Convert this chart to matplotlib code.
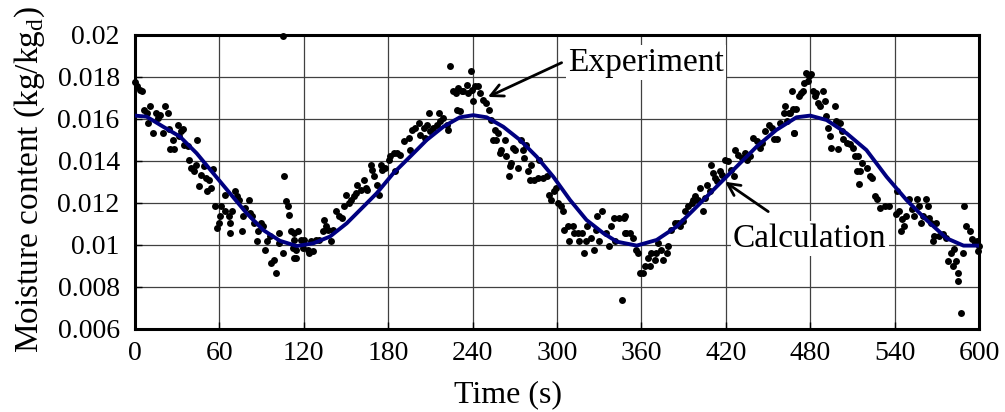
import matplotlib
matplotlib.use("Agg")
import matplotlib.pyplot as plt

plt.rcParams['font.family'] = ['Liberation Serif', 'DejaVu Serif']
plt.rcParams['mathtext.fontset'] = 'custom'
plt.rcParams['mathtext.rm'] = 'Liberation Serif'

# calculation curve
calc_t = [0, 8.3, 20.1, 32, 43.8, 55.7, 67.5, 79.4, 91.2, 103, 115, 126.8, 138.6,
          150.5, 162.3, 171.8, 183.6, 195.5, 207.4, 219.2, 231, 240.5, 250,
          261.8, 273.7, 285.6, 297.4, 309.3, 321, 333, 342.5, 356.7, 370.9,
          385, 399.3, 413.5, 427.7, 441.9, 456, 470.3, 480, 491.7, 505.9, 520,
          534.3, 548.5, 562.7, 577, 589, 600]
calc_v = [0.01616, 0.01611, 0.01563, 0.01516, 0.01437, 0.01341, 0.01246, 0.01151,
          0.01071, 0.01020, 0.00995, 0.01008, 0.01040, 0.01103, 0.01182, 0.01246,
          0.01341, 0.01420, 0.01500, 0.01563, 0.01608, 0.01618, 0.01608, 0.01563,
          0.01500, 0.01420, 0.01325, 0.01214, 0.01119, 0.01056, 0.01016, 0.00997,
          0.01024, 0.01087, 0.01182, 0.01278, 0.01373, 0.01468, 0.01548, 0.01608,
          0.01616, 0.01595, 0.01532, 0.01452, 0.01325, 0.01214, 0.01119, 0.01032,
          0.00997, 0.00997]

# experiment points
exp_t = [0, 1.6, 3.5, 4.9, 6.3, 8.2, 11, 9.3, 12.8, 14.7, 16.3, 17.5, 19.8, 21.7,
         23.3, 24.5, 26.9, 25, 27.5, 30.4, 32.7, 33.9, 31.5, 35, 37.4, 44.4, 38.5,
         39.7, 43.2, 42, 45.5, 46.7, 49, 50.2, 52.5, 51.4, 53.7, 55.3, 56.7, 58.4,
         59.5, 61.4, 60.7, 64.2, 63.7, 66.5, 67.7, 67.7, 68.9, 71.2, 72.4, 73.6,
         76.4, 77, 78.2, 81, 81.7, 82.9, 84.8, 86.4, 87.6, 89.9, 91.1, 92.2, 94.1,
         95.7, 96.9, 98.8, 100.4, 102.1, 102.7, 105.1, 105.8, 107.4, 108.6, 109.7,
         110.9, 112.1, 112.8, 113.2, 105.4,
         113.4, 114.6, 114.6, 115.8, 118.1, 119.3, 120.5, 122.8, 124, 126.4, 125.2,
         128.7, 131.1, 133.4, 134.6, 135.8, 136.9, 139.3, 140.5, 142.8, 145.2,
         147.5, 148.7, 149.9, 152.2, 153.4, 155.8, 156.9, 158.1, 160.5, 162.8, 164,
         165.2, 167.5, 168.7, 169.9, 172.2, 173.4, 174.6, 175.8, 178.1, 180.5,
         181.6, 184, 186.4, 185.2, 188.7, 191.1, 194.6, 195.8, 197, 199.3, 201.7,
         202.8, 205.2, 206.4, 207.5, 208.7, 209.9, 212.2, 214.6, 216.2, 216.9,
         219.3, 221.6, 222.8, 224, 225.9, 228.2, 229.2, 229.9, 232.2,
         231, 233.4, 235.8, 236.9, 238.6, 239.3, 240.5, 241.6, 244, 245.2, 247.5,
         249.4, 251.8, 253.4, 255.8, 254.6, 256.9, 258.1, 259.3, 260.5, 262.8, 264,
         266.4, 265.9, 267.5, 268.7, 269.9, 272.2, 274.6, 275.8, 276.9, 278.1,
         279.3, 280.5, 281.6, 284, 286.4, 287.5, 289.9, 292.7, 294.6, 295.8, 297.6,
         299.3, 300.5, 302.8, 304.5, 305.2, 307.5, 308.7, 311.1, 312.2, 314.6,
         315.8, 318.1, 319.3, 320.5, 321.6, 324, 326.4, 327.5, 328.7, 329.9, 332.2,
         334.6, 336.9, 338.1, 340.5, 341.6, 344, 346.4, 347.5, 348.7,
         348.1, 349.3, 351.7, 354, 356.4, 357.6, 358.8, 361.2, 362.4, 364.8, 365.9,
         367.1, 369.5, 370.7, 371.9, 374.3, 375.5, 377.9, 379, 381.4, 383.8, 386.2,
         387.4, 389.8, 390.9, 393.3, 395.7, 396.9, 398.1, 400.5, 401.7, 404, 405.2,
         406.4, 408.8, 409.5, 411.2, 412.4, 413.6, 415.9, 417.1, 419.5, 421.9,
         423.8, 425.5, 426.6, 429, 431.4, 433.8, 435, 437.3, 439.7, 442.1, 444.5,
         445.7, 448.1, 450.4, 452.8, 454, 456.4, 458.8, 461.2, 462.3, 463.5, 465.9,
         467.1, 468.3,
         465.1, 467.5, 468.7, 469.9, 472.3, 473.5, 475.2, 475.9, 477.1, 478.3,
         479.5, 480.7, 481.9, 483.1, 484.3, 485.5, 487.2, 489.1, 490.3, 491.5,
         492.7, 493.9, 495.1, 497.5, 498.7, 499.9, 501.1, 502.3, 503.5, 505.9,
         508.3, 510.7, 511.9, 514.3, 513.1, 515.5, 516.7, 520.3, 522.7, 523.9,
         514.8, 526.3, 527.5, 529.9, 533.5, 535.9, 541.9, 540.7, 543.1, 545.5,
         546.7, 544.3, 547.9, 550.3, 552.7, 553.9, 556.3, 557.5, 558.7, 559.9,
         562.3, 563.5, 564.7, 565.9, 568.3, 569.5, 567.1, 571.9, 574.3, 576.7,
         577.9, 580.3, 581.5, 582.2, 583.9, 585.1, 585.1, 587.5, 588.7, 589.4,
         591.1, 593.5, 594.7, 597.1, 598.3, 599.5, 600]
exp_v = [0.01775, 0.01756, 0.0174, 0.01732, 0.01644, 0.01629, 0.0166, 0.01581,
         0.01533, 0.01629, 0.01605, 0.0162, 0.01533, 0.0166, 0.01629, 0.0155,
         0.01502, 0.01457, 0.01457, 0.01573, 0.01541, 0.0155, 0.01517, 0.01478,
         0.0147, 0.01498, 0.01406, 0.01367, 0.01383, 0.01351, 0.0128, 0.01335,
         0.01375, 0.01319, 0.01311, 0.01256, 0.01271, 0.01364, 0.01184, 0.01081,
         0.01105, 0.01184, 0.01137, 0.0116, 0.0124, 0.01137, 0.01105, 0.01057,
         0.0116, 0.01256, 0.01232, 0.01216, 0.01065, 0.01137, 0.01176, 0.01216,
         0.01152, 0.01137, 0.01105, 0.01018, 0.01065, 0.01105, 0.01089, 0.00978,
         0.01018, 0.01041, 0.00914, 0.0093, 0.00867, 0.01057, 0.0101, 0.00962,
         0.0133, 0.01208, 0.01184, 0.01144, 0.01065, 0.00986, 0.00938, 0.01057,
         0.01995,
         0.01025, 0.00978, 0.00938, 0.01065, 0.01025, 0.00986, 0.01025, 0.00978,
         0.00962, 0.0097, 0.01018, 0.01025, 0.01025, 0.01065, 0.0112, 0.01089,
         0.01073, 0.01018, 0.01073, 0.0116, 0.01137, 0.01129, 0.01184, 0.0124,
         0.012, 0.01216, 0.01232, 0.01248, 0.01287, 0.01264, 0.01311, 0.01272,
         0.01264, 0.01383, 0.01359, 0.01327, 0.01287, 0.0124, 0.01383, 0.01359,
         0.01367, 0.01406, 0.01422, 0.01438, 0.01438, 0.01351, 0.0143, 0.01494,
         0.0151, 0.01454, 0.01549, 0.01557, 0.01581, 0.01525, 0.01557, 0.0151,
         0.01573, 0.01629, 0.01541, 0.01557, 0.01573, 0.01629, 0.01589, 0.01605,
         0.01573, 0.01549, 0.01851, 0.01732, 0.01724, 0.01644, 0.01748, 0.01732,
         0.01637, 0.01732, 0.01764, 0.01724, 0.01827, 0.0174, 0.01684, 0.01756,
         0.01756, 0.01724, 0.01692, 0.01676, 0.01644, 0.01597, 0.01549, 0.01502,
         0.01502, 0.01533, 0.01438, 0.01454, 0.01502, 0.01422, 0.01375, 0.01327,
         0.01391, 0.01462, 0.01454, 0.01367, 0.01502, 0.01454, 0.01414, 0.01478,
         0.01351, 0.01311, 0.01383, 0.01311, 0.01319, 0.01406, 0.01319, 0.01327,
         0.0124, 0.01216, 0.01256, 0.01271, 0.012, 0.01184, 0.0116, 0.01073,
         0.01089, 0.01018, 0.01089, 0.01057, 0.01057, 0.01018, 0.01057, 0.00962,
         0.01018, 0.01089, 0.01033, 0.00978, 0.01073, 0.01137, 0.01018, 0.0116,
         0.01057, 0.00994, 0.01089, 0.01129, 0.01018, 0.01129, 0.0074, 0.01129,
         0.01057,
         0.01137, 0.01057, 0.01057, 0.01033, 0.00978, 0.00962, 0.00867, 0.00867,
         0.00898, 0.00938, 0.00898, 0.00962, 0.0093, 0.00962, 0.0101, 0.00978,
         0.0093, 0.00962, 0.00994, 0.01073, 0.01105, 0.01105, 0.01089, 0.01113,
         0.0116, 0.01184, 0.012, 0.01216, 0.01232, 0.01216, 0.01271, 0.0116,
         0.01224, 0.01287, 0.01256, 0.01383, 0.01343, 0.01319, 0.01303, 0.01351,
         0.01335, 0.01406, 0.01398, 0.01359, 0.01327, 0.01454, 0.0143, 0.01414,
         0.01438, 0.01406, 0.01422, 0.0151, 0.01494, 0.01462, 0.01486, 0.01541,
         0.01573, 0.01557, 0.01505, 0.01505, 0.01581, 0.01629, 0.0166, 0.01589,
         0.01629, 0.01732, 0.01533,
         0.0163, 0.01646, 0.01535, 0.01646, 0.0171, 0.01725, 0.01733, 0.01773,
         0.01821, 0.01781, 0.01805, 0.01813, 0.01733, 0.0171, 0.01725, 0.01678,
         0.01662, 0.01733, 0.01686, 0.01614, 0.01559, 0.01519, 0.01464, 0.01662,
         0.0159, 0.01456, 0.01583, 0.01543, 0.01503, 0.01487, 0.01479, 0.01464,
         0.01424, 0.01424, 0.01352, 0.01352, 0.01392, 0.01368, 0.01329, 0.01321,
         0.01289, 0.01233, 0.01218, 0.01178, 0.01186, 0.01186, 0.01257, 0.01146,
         0.01162, 0.01122, 0.0109, 0.01067, 0.01138, 0.01218, 0.0117, 0.01138,
         0.01218, 0.01186, 0.01107, 0.01138, 0.01218, 0.01186, 0.0113, 0.01107,
         0.01043, 0.01107, 0.01019, 0.01043, 0.01051, 0.01035, 0.00924, 0.00964,
         0.009, 0.0098, 0.00924, 0.00868, 0.00829, 0.00678, 0.00964, 0.01186,
         0.01091, 0.01067, 0.01027, 0.01011, 0.01019, 0.00972, 0.00995]

x_ticks = [0, 60, 120, 180, 240, 300, 360, 420, 480, 540, 600]
y_ticks = [0.006, 0.008, 0.01, 0.012, 0.014, 0.016, 0.018, 0.02]
y_ticklabels = ['0.006', '0.008', '0.01', '0.012', '0.014', '0.016', '0.018', '0.02']

fig = plt.figure(figsize=(10.05, 4.12), dpi=100)
ax = fig.add_axes([0.1343, 0.2015, 0.8398, 0.7136])

ax.scatter(exp_t, exp_v, s=25, color='black', linewidths=0, zorder=3, clip_on=False)
ax.plot(calc_t, calc_v, color='#000080', lw=2.8, zorder=4)

ax.set_xlim(0, 600)
ax.set_ylim(0.006, 0.02)
ax.set_xticks(x_ticks)
ax.set_yticks(y_ticks)
ax.set_yticklabels(y_ticklabels)
ax.grid(True, color='#404040', lw=0.9)
ax.set_axisbelow(True)
ax.tick_params(direction='in', length=5, width=1, labelsize=20)
ax.tick_params(axis='y', pad=11)
ax.tick_params(axis='x', pad=9)
for sp in ax.spines.values():
    sp.set_linewidth(2.2)

# annotations
box = dict(facecolor='white', edgecolor='none', pad=1.5)
ax.text(307.8, 0.0183, 'Experiment', fontsize=24, ha='left', va='baseline',
        bbox=box, zorder=2)
ax.annotate('', xy=(250.9, 0.01705), xytext=(303.3, 0.01868),
            arrowprops=dict(arrowstyle='->', lw=2, color='black',
                            mutation_scale=22, shrinkA=0, shrinkB=0), zorder=5)
ax.text(425.1, 0.00992, 'Calculation', fontsize=24, ha='left', va='baseline',
        bbox=box, zorder=2)
ax.annotate('', xy=(419.4, 0.01301), xytext=(450.2, 0.01159),
            arrowprops=dict(arrowstyle='->', lw=2, color='black',
                            mutation_scale=22, shrinkA=0, shrinkB=0), zorder=5)

fig.text(0.03, 0.565, 'Moisture content (kg/kg$_{\\rm d}$)', fontsize=24,
         rotation=90, ha='center', va='center')
fig.text(0.505, 0.041, 'Time (s)', fontsize=23, ha='center', va='center')

fig.savefig('out.png', dpi=100)
